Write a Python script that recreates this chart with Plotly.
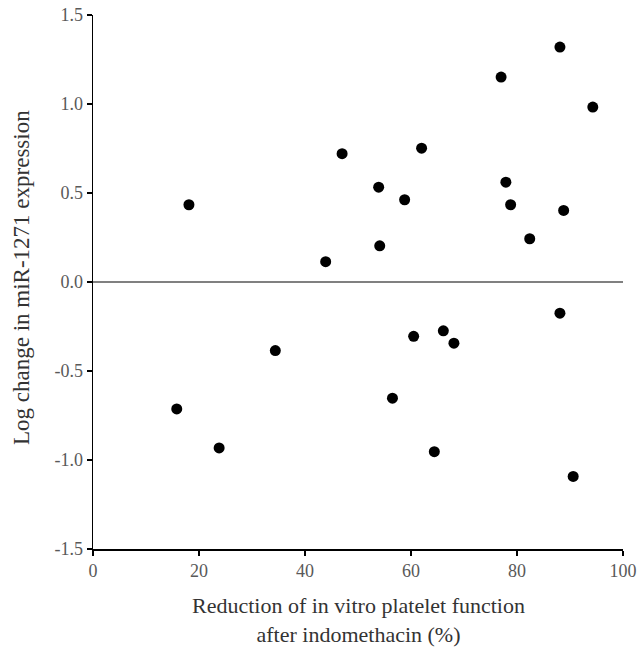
import plotly.graph_objects as go

reduction_pct = [18.1, 15.8, 23.8, 34.4, 43.9, 47.0, 53.9, 54.1, 58.8, 62.0, 60.5, 66.1,
                 68.1, 56.5, 64.4, 77.0, 77.9, 78.8, 82.4, 88.1, 88.8, 94.3, 88.1, 90.6]
log_change = [0.434, -0.713, -0.932, -0.385, 0.114, 0.721, 0.533, 0.203, 0.462, 0.752, -0.305, -0.274,
              -0.344, -0.653, -0.953, 1.151, 0.561, 0.434, 0.243, 1.320, 0.402, 0.983, -0.175, -1.092]

x_ticks = [0, 20, 40, 60, 80, 100]
y_ticks = [-1.5, -1.0, -0.5, 0.0, 0.5, 1.0, 1.5]
y_tick_text = ["-1.5", "-1.0", "-0.5", "0.0", "0.5", "1.0", "1.5"]

x_title = "Reduction of in vitro platelet function<br>after indomethacin (%)"
y_title = "Log change in miR-1271 expression"

FONT = "Liberation Serif, Times New Roman, serif"
TICK_COLOR = "#595959"
TITLE_COLOR = "#333333"

fig = go.Figure()
fig.add_trace(go.Scatter(
    x=reduction_pct, y=log_change, mode="markers",
    marker=dict(size=11, color="black"),
    showlegend=False, cliponaxis=False, hoverinfo="skip",
))

fig.update_layout(
    width=638, height=648,
    margin=dict(l=93, r=15, t=15, b=99, autoexpand=False),
    paper_bgcolor="white", plot_bgcolor="white",
    font=dict(family=FONT, size=18, color=TICK_COLOR),
)
fig.update_xaxes(
    range=[0, 100], tickvals=x_ticks, ticks="outside", ticklen=5, tickwidth=1.5,
    tickcolor="black", showline=True, linecolor="black", linewidth=1.5,
    showgrid=False, zeroline=False, automargin=False, ticklabeloverflow="allow",
    tickfont=dict(family=FONT, size=18, color=TICK_COLOR),
)
fig.update_yaxes(
    range=[-1.5, 1.5], tickvals=y_ticks, ticktext=y_tick_text, ticks="outside", ticklen=5,
    tickwidth=1.5, tickcolor="black", showline=True, linecolor="black", linewidth=1.5,
    showgrid=False, zeroline=True, zerolinecolor="#808080", zerolinewidth=1.5,
    automargin=False, ticklabeloverflow="allow",
    tickfont=dict(family=FONT, size=18, color=TICK_COLOR),
)
fig.add_annotation(
    text=x_title, xref="paper", yref="paper", x=0.5, y=0, yshift=-71,
    xanchor="center", yanchor="middle", showarrow=False,
    font=dict(family=FONT, size=22, color=TITLE_COLOR),
)
fig.add_annotation(
    text=y_title, xref="paper", yref="paper", x=0, y=0.5, xshift=-72, yshift=4,
    xanchor="center", yanchor="middle", textangle=-90, showarrow=False,
    font=dict(family=FONT, size=23, color=TITLE_COLOR),
)

fig.write_html(
    "out.html",
    config={"displayModeBar": False, "staticPlot": True},
    post_script="document.body.style.margin='0';document.body.style.overflow='hidden';",
)
